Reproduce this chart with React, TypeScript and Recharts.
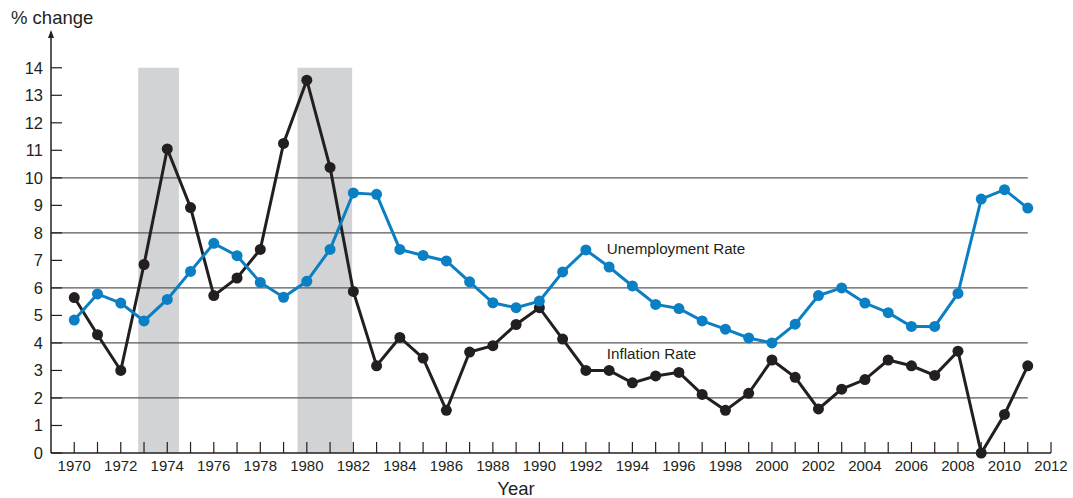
// Inflation vs unemployment, 1970–2011 (Recharts)

import {
  LineChart,
  Line,
  XAxis,
  YAxis,
  ReferenceArea,
  ReferenceLine,
  ReferenceDot,
} from "recharts";

const years = [
  1970, 1971, 1972, 1973, 1974, 1975, 1976, 1977, 1978, 1979, 1980, 1981,
  1982, 1983, 1984, 1985, 1986, 1987, 1988, 1989, 1990, 1991, 1992, 1993,
  1994, 1995, 1996, 1997, 1998, 1999, 2000, 2001, 2002, 2003, 2004, 2005,
  2006, 2007, 2008, 2009, 2010, 2011,
];

const inflation = [
  5.65, 4.3, 3.0, 6.85, 11.05, 8.92, 5.72, 6.36, 7.4, 11.25, 13.55, 10.38,
  5.87, 3.17, 4.2, 3.45, 1.55, 3.67, 3.9, 4.67, 5.28, 4.14, 3.0, 3.0, 2.55,
  2.8, 2.93, 2.13, 1.55, 2.17, 3.38, 2.75, 1.6, 2.32, 2.67, 3.38, 3.17, 2.82,
  3.7, 0.0, 1.4, 3.17,
];

const unemployment = [
  4.83, 5.78, 5.45, 4.8, 5.58, 6.6, 7.62, 7.17, 6.2, 5.66, 6.24, 7.4, 9.45,
  9.4, 7.4, 7.18, 6.98, 6.22, 5.46, 5.28, 5.52, 6.58, 7.38, 6.76, 6.07, 5.4,
  5.25, 4.8, 4.5, 4.18, 4.0, 4.68, 5.72, 6.0, 5.45, 5.1, 4.6, 4.6, 5.8, 9.23,
  9.57, 8.9,
];

const yTicks = [0, 1, 2, 3, 4, 5, 6, 7, 8, 9, 10, 11, 12, 13, 14];
const xTicks = Array.from({ length: 43 }, (_, i) => 1970 + i);
const gridValues = [2, 4, 6, 8, 10];
const recessions = [
  [1972.75, 1974.5],
  [1979.6, 1981.95],
];

const unemploymentLabel = { x: 1992.9, y: 7.43, text: "Unemployment Rate" };
const inflationLabel = { x: 1992.9, y: 3.6, text: "Inflation Rate" };

const data = years.map((year, i) => ({
  year,
  inflation: inflation[i],
  unemployment: unemployment[i],
}));

const INK = "#231f20";
const BLUE = "#0a7fc3";
const FONT = "'Liberation Sans', Arial, Helvetica, sans-serif";

function AxisTitle({ viewBox }: any) {
  const ax = viewBox.x + viewBox.width;
  const top = viewBox.y;
  return (
    <g>
      <path d={`M${ax - 3},${top + 6} L${ax},${top - 2} L${ax + 3},${top + 6} Z`} fill={INK} />
      <text x={11} y={24} fontSize={18.5} fill={INK} fontFamily={FONT}>
        % change
      </text>
    </g>
  );
}

function textShape(text: string) {
  return (props: any) => (
    <text
      x={props.cx}
      y={props.cy}
      dy="0.35em"
      fontSize={15.2}
      fill={INK}
      fontFamily={FONT}
    >
      {text}
    </text>
  );
}

export default function App() {
  return (
    <div style={{ position: "absolute", left: 0, top: 0, background: "#fff" }}>
      <LineChart
        width={1073}
        height={498}
        data={data}
        margin={{ top: 32, right: 22, bottom: 0, left: 0 }}
        style={{ fontFamily: FONT }}
      >
        <XAxis
          dataKey="year"
          type="number"
          domain={[1969, 2012]}
          ticks={xTicks}
          interval={0}
          height={45}
          tickSize={-11}
          tickMargin={18}
          tick={{ fontSize: 15, fill: INK }}
          tickLine={{ stroke: INK, strokeWidth: 1.2 }}
          axisLine={{ stroke: INK, strokeWidth: 1.5 }}
          tickFormatter={(v) => (v % 2 === 0 ? String(v) : "")}
          label={{
            value: "Year",
            position: "insideBottom",
            offset: 3,
            dx: -35,
            fontSize: 18.5,
            fill: INK,
          }}
        />
        <YAxis
          type="number"
          domain={[0, 15.3]}
          ticks={yTicks}
          interval={0}
          width={51}
          tickSize={-11}
          tickMargin={19}
          tick={{ fontSize: 16.5, fill: INK }}
          tickLine={{ stroke: INK, strokeWidth: 1.2 }}
          axisLine={{ stroke: INK, strokeWidth: 1.5 }}
          label={<AxisTitle />}
        />
        {recessions.map(([x1, x2]) => (
          <ReferenceArea
            key={x1}
            x1={x1}
            x2={x2}
            y1={0}
            y2={14}
            fill="#d1d3d4"
            fillOpacity={1}
            stroke="none"
          />
        ))}
        {gridValues.map((v) => (
          <ReferenceLine
            key={v}
            segment={[
              { x: 1969, y: v },
              { x: 2011, y: v },
            ]}
            stroke="#58595b"
            strokeWidth={1.2}
          />
        ))}
        <Line
          dataKey="inflation"
          stroke={INK}
          strokeWidth={3}
          dot={{ r: 5.5, fill: INK, stroke: INK, strokeWidth: 0 }}
          isAnimationActive={false}
        />
        <Line
          dataKey="unemployment"
          stroke={BLUE}
          strokeWidth={3}
          dot={{ r: 5.5, fill: BLUE, stroke: BLUE, strokeWidth: 0 }}
          isAnimationActive={false}
        />
        <ReferenceDot
          x={unemploymentLabel.x}
          y={unemploymentLabel.y}
          shape={textShape(unemploymentLabel.text)}
        />
        <ReferenceDot
          x={inflationLabel.x}
          y={inflationLabel.y}
          shape={textShape(inflationLabel.text)}
        />
      </LineChart>
    </div>
  );
}
